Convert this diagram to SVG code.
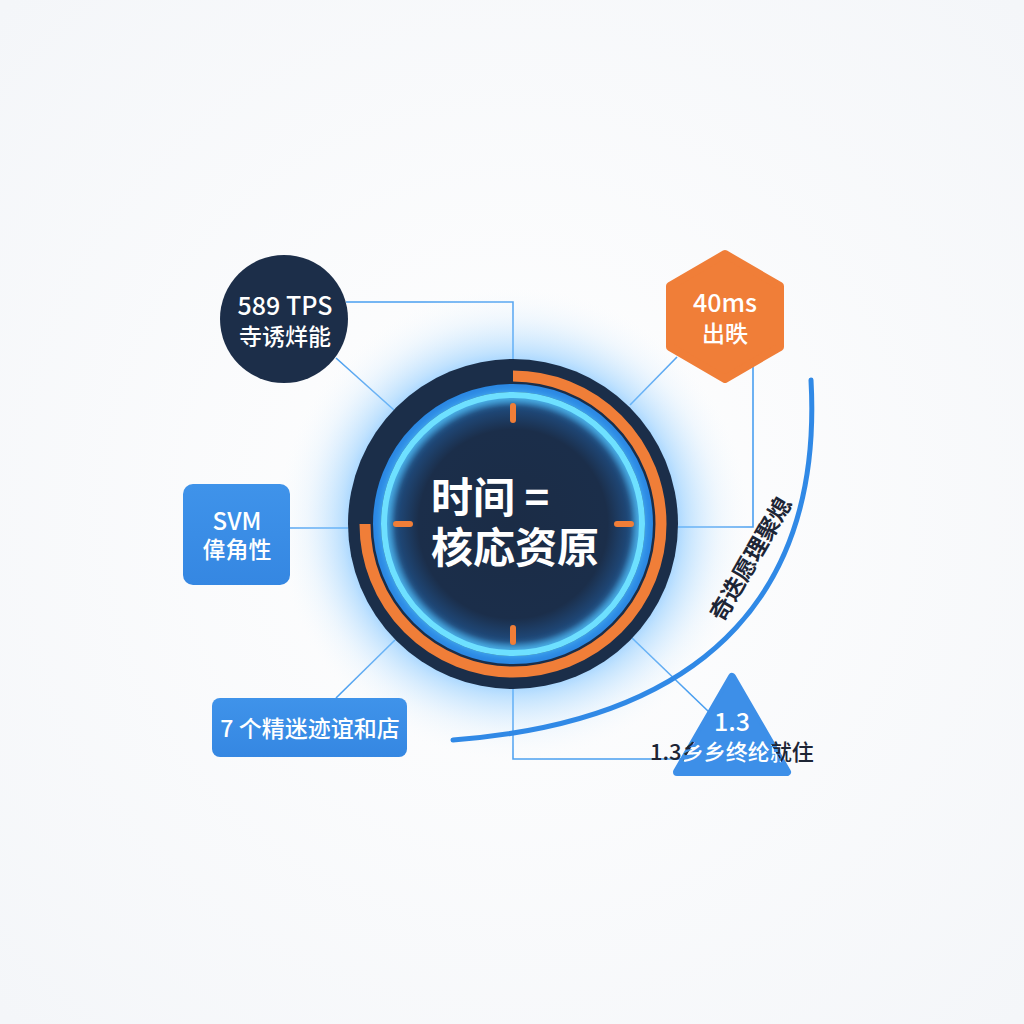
<svg xmlns="http://www.w3.org/2000/svg" width="1024" height="1024" viewBox="0 0 1024 1024">
  <defs>
    <radialGradient id="bg" cx="50%" cy="50%" r="70%">
      <stop offset="0" stop-color="#ffffff"/>
      <stop offset="1" stop-color="#f4f6f9"/>
    </radialGradient>
    <radialGradient id="glow" cx="513" cy="524" r="240" gradientUnits="userSpaceOnUse">
      <stop offset="0.6" stop-color="#5fb3ff" stop-opacity="0.9"/>
      <stop offset="0.72" stop-color="#86c8ff" stop-opacity="0.5"/>
      <stop offset="0.86" stop-color="#c2e3ff" stop-opacity="0.2"/>
      <stop offset="1" stop-color="#ffffff" stop-opacity="0"/>
    </radialGradient>
    <radialGradient id="core" cx="513" cy="524" r="126" gradientUnits="userSpaceOnUse">
      <stop offset="0" stop-color="#1b2c46"/>
      <stop offset="0.75" stop-color="#1b2e4a"/>
      <stop offset="0.93" stop-color="#1f4a7c"/>
      <stop offset="1" stop-color="#2d78c0"/>
    </radialGradient>
    <linearGradient id="blueBox" x1="0" y1="0" x2="0" y2="1">
      <stop offset="0" stop-color="#3f93ea"/>
      <stop offset="1" stop-color="#3587e2"/>
    </linearGradient>
    <filter id="blur4" x="-20%" y="-20%" width="140%" height="140%">
      <feGaussianBlur stdDeviation="4"/>
    </filter>
    <clipPath id="triClip">
      <path d="M732 677 L787 772 L677 772 Z" stroke="#000" stroke-width="8" stroke-linejoin="round"/>
    </clipPath>
    <style>
      .conn { fill: none; stroke: #4a9ff0; stroke-width: 1.6; }
      .t { font-family: "Noto Sans CJK SC", "Noto Sans", "Liberation Sans", sans-serif; }
      .w { fill: #ffffff; }
      .navy { fill: #1c2e49; }
      .tick { stroke: #f07e38; stroke-width: 6; stroke-linecap: round; }
    </style>
  </defs>

  <rect x="0" y="0" width="1024" height="1024" fill="url(#bg)"/>

  <g id="connectors">
    <polyline class="conn" points="346,302 513,302 513,360"/>
    <line class="conn" x1="336" y1="358" x2="394" y2="410"/>
    <line class="conn" x1="677" y1="357" x2="630" y2="405"/>
    <polyline class="conn" points="753,366 753,527 678,527"/>
    <line class="conn" x1="290" y1="528" x2="348" y2="528"/>
    <line class="conn" x1="336" y1="698" x2="395" y2="640"/>
    <line class="conn" x1="632" y1="638" x2="709" y2="712"/>
    <polyline class="conn" points="513,688 513,759 682,759"/>
  </g>

  <g id="center-node">
    <circle cx="513" cy="524" r="240" fill="url(#glow)"/>
    <circle cx="513" cy="524" r="165" fill="#1b2e49"/>
    <path d="M513 376 A148 148 0 1 1 365 524" fill="none" stroke="#f07e38" stroke-width="11"/>
    <circle cx="513" cy="524" r="136" fill="none" stroke="#2b87e3" stroke-width="8"/>
    <circle cx="513" cy="524" r="128" fill="url(#core)"/>
    <circle cx="513" cy="524" r="127" fill="none" stroke="#5fd6ff" stroke-width="8" filter="url(#blur4)" opacity="0.8"/>
    <circle cx="513" cy="524" r="129" fill="none" stroke="#6ee0ff" stroke-width="6"/>
    <line class="tick" x1="513" y1="406" x2="513" y2="420"/>
    <line class="tick" x1="513" y1="628" x2="513" y2="642"/>
    <line class="tick" x1="396" y1="524" x2="410" y2="524"/>
    <line class="tick" x1="617" y1="524" x2="631" y2="524"/>
    <text class="t w" x="431" y="513" font-size="42" font-weight="700">时间 =</text>
    <text class="t w" x="431" y="563" font-size="42" font-weight="700">核応资原</text>
  </g>

  <g id="node-tps">
    <circle cx="284" cy="319" r="64" class="navy"/>
    <text class="t w" x="285" y="315" font-size="25" font-weight="500" text-anchor="middle">589 TPS</text>
    <text class="t w" x="285" y="345" font-size="23" font-weight="500" text-anchor="middle">寺诱烊能</text>
  </g>

  <g id="node-latency">
    <path d="M725 254 L780 286 L780 347 L725 379 L670 347 L670 286 Z" fill="#f07e38" stroke="#f07e38" stroke-width="8" stroke-linejoin="round"/>
    <text class="t w" x="725" y="312" font-size="25" font-weight="500" text-anchor="middle">40ms</text>
    <text class="t w" x="725" y="342" font-size="23" font-weight="500" text-anchor="middle">出昳</text>
  </g>

  <g id="node-svm">
    <rect x="183" y="484" width="107" height="101" rx="10" fill="url(#blueBox)"/>
    <text class="t w" x="237" y="530" font-size="24" font-weight="500" text-anchor="middle">SVM</text>
    <text class="t w" x="237" y="558" font-size="23" font-weight="500" text-anchor="middle">偉角性</text>
  </g>

  <g id="node-channels">
    <rect x="212" y="698" width="195" height="59" rx="8" fill="url(#blueBox)"/>
    <text class="t w" x="310" y="737" font-size="23" font-weight="500" text-anchor="middle">7 个精迷迹谊和店</text>
  </g>

  <g id="node-arc">
    <path d="M811 380 C822 580 720 720 453 740" fill="none" stroke="#3089e6" stroke-width="5" stroke-linecap="round"/>
    <text class="t" x="749" y="558" font-size="23" font-weight="700" fill="#1d2535" text-anchor="middle" dominant-baseline="central" transform="rotate(-60 749 558)">奇迭愿理聚熄</text>
  </g>

  <g id="node-ratio">
    <path d="M732 677 L787 772 L677 772 Z" fill="#3d8fe8" stroke="#3d8fe8" stroke-width="8" stroke-linejoin="round"/>
    <text class="t" x="650" y="760" font-size="22" font-weight="500" fill="#1d2535">1.3乡乡终纶就住</text>
    <g clip-path="url(#triClip)">
      <rect x="670" y="670" width="125" height="110" fill="#3d8fe8"/>
      <text class="t w" x="650" y="760" font-size="22" font-weight="500">1.3乡乡终纶就住</text>
    </g>
    <text class="t w" x="732" y="731" font-size="25" font-weight="500" text-anchor="middle">1.3</text>
  </g>
</svg>
